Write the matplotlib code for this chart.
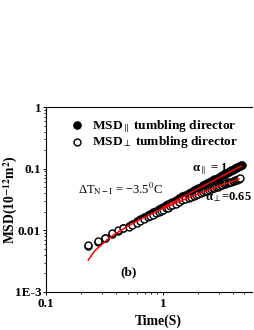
import matplotlib
matplotlib.use("Agg")
import matplotlib.pyplot as plt
from matplotlib.ticker import FixedLocator, FixedFormatter, LogLocator, NullFormatter

plt.rcParams['font.family'] = ['Liberation Serif', 'DejaVu Serif']
plt.rcParams['mathtext.fontset'] = 'stix'

# ---- data ----
time_para = [0.23, 0.28, 0.32, 0.37, 0.41, 0.46, 0.51, 0.55, 0.60, 0.64,
             0.69, 0.74, 0.78, 0.83, 0.87, 0.92, 0.97, 1.01, 1.06, 1.10,
             1.15, 1.20, 1.29, 1.38, 1.47, 1.56, 1.66, 1.75, 1.84, 1.93,
             2.02, 2.12, 2.21, 2.30, 2.39, 2.48, 2.58, 2.67, 2.76, 2.85,
             2.94, 3.04, 3.13, 3.22, 3.31, 3.40, 3.50, 3.59, 3.68, 3.77,
             3.86, 3.96, 4.05, 4.14, 4.23, 4.32, 4.42, 4.51, 4.60, 4.69, 4.78]
msd_para = [0.0055, 0.0065, 0.0075, 0.0087, 0.0098, 0.0108, 0.0118, 0.0128, 0.0141, 0.0152,
            0.0165, 0.0177, 0.0187, 0.0199, 0.0209, 0.0221, 0.0232, 0.0242, 0.0254, 0.0264,
            0.0276, 0.0288, 0.0310, 0.0331, 0.0354, 0.0375, 0.0400, 0.0421, 0.0444, 0.0465,
            0.0488, 0.0512, 0.0534, 0.0557, 0.0578, 0.0600, 0.0625, 0.0646, 0.0668, 0.0690,
            0.0712, 0.0737, 0.0759, 0.0781, 0.0803, 0.0825, 0.0850, 0.0872, 0.0894, 0.0916,
            0.0938, 0.0963, 0.0985, 0.1007, 0.1029, 0.1051, 0.1075, 0.1097, 0.1119, 0.1141, 0.1165]

time_perp = [0.23, 0.28, 0.32, 0.37, 0.41, 0.46, 0.51, 0.55, 0.60, 0.64,
             0.69, 0.74, 0.78, 0.83, 0.87, 0.92, 0.97, 1.01, 1.06, 1.10,
             1.15, 1.20, 1.29, 1.38, 1.47, 1.56, 1.66, 1.75, 1.84, 1.93,
             2.02, 2.12, 2.21, 2.30, 2.39, 2.48, 2.58, 2.67, 2.76, 2.85,
             2.94, 3.04, 3.13, 3.22, 3.31, 3.40, 3.50, 3.59, 3.68, 3.77,
             3.86, 3.96, 4.05, 4.14, 4.23, 4.32, 4.42, 4.51, 4.60]
msd_perp = [0.0058, 0.0066, 0.0076, 0.0089, 0.0100, 0.0108, 0.0115, 0.0121, 0.0132, 0.0142,
            0.0152, 0.0163, 0.0171, 0.0180, 0.0188, 0.0197, 0.0207, 0.0216, 0.0226, 0.0234,
            0.0244, 0.0254, 0.0272, 0.0289, 0.0305, 0.0320, 0.0337, 0.0352, 0.0365, 0.0378,
            0.0391, 0.0405, 0.0418, 0.0430, 0.0442, 0.0453, 0.0466, 0.0478, 0.0489, 0.0500,
            0.0511, 0.0523, 0.0534, 0.0544, 0.0555, 0.0565, 0.0577, 0.0587, 0.0597, 0.0607,
            0.0616, 0.0627, 0.0637, 0.0646, 0.0656, 0.0665, 0.0675, 0.0684, 0.0693]

fit_para_t = [1.0, 4.7]
fit_para_y = [0.0236, 0.111]

fit_perp_t = [0.23, 0.26, 0.30, 0.35, 0.40, 0.50, 0.60, 0.80, 1.0, 1.5, 2.0, 3.0, 4.0, 4.47]
fit_perp_y = [0.0033, 0.0046, 0.0059, 0.0076, 0.0090, 0.0117, 0.0141, 0.0186, 0.0226,
              0.0313, 0.0388, 0.0518, 0.0631, 0.0680]

xticks = [0.1, 1]
xticklabels = ["0.1", "1"]
yticks = [0.001, 0.01, 0.1, 1]
yticklabels = ["1E-3", "0.01", "0.1", "1"]

legend_labels = [r"MSD$_{\parallel}$ tumbling director",
                 r"MSD$_{\perp}$ tumbling director"]

# ---- figure ----
fig = plt.figure(figsize=(2.55, 3.30), dpi=100)
ax = fig.add_axes([46/255, 38/330, 206/255, 185/330])

ax.plot(time_para, msd_para, linestyle='none', marker='o', ms=5.2,
        mfc='black', mec='black', mew=0.9, zorder=2)
ax.plot(time_perp, msd_perp, linestyle='none', marker='o', ms=5.0,
        mfc='white', mec='black', mew=1.0, zorder=3)
ax.plot(fit_perp_t, fit_perp_y, color='red', lw=1.1, zorder=4)
ax.plot(fit_para_t, fit_para_y, color='red', lw=1.1, zorder=4)

ax.set_xscale('log')
ax.set_yscale('log')
ax.set_xlim(0.1, 5.8)
ax.set_ylim(0.001, 1)

ax.xaxis.set_major_locator(FixedLocator(xticks))
ax.xaxis.set_major_formatter(FixedFormatter(xticklabels))
ax.xaxis.set_minor_locator(LogLocator(base=10, subs=range(2, 10)))
ax.xaxis.set_minor_formatter(NullFormatter())
ax.yaxis.set_major_locator(FixedLocator(yticks))
ax.yaxis.set_major_formatter(FixedFormatter(yticklabels))
ax.yaxis.set_minor_locator(LogLocator(base=10, subs=range(2, 10)))
ax.yaxis.set_minor_formatter(NullFormatter())

for sp in ['left', 'bottom', 'top']:
    ax.spines[sp].set_linewidth(0.8)
ax.spines['right'].set_visible(False)

ax.tick_params(axis='both', which='major', direction='out', length=2.5, width=0.7,
               labelsize=9.5)
ax.tick_params(axis='both', which='minor', direction='out', length=1.5, width=0.6)
ax.tick_params(axis='x', which='major', pad=2)
ax.tick_params(axis='y', which='major', pad=1)
for lab in ax.get_xticklabels() + ax.get_yticklabels():
    lab.set_fontweight('bold')

ax.set_xlabel("Time(S)", fontsize=9.8, fontweight='bold')
ax.xaxis.set_label_coords((158-46)/206, -0.122)
ax.set_ylabel(r"MSD(10$^{\mathbf{-12}}$m$^{\mathbf{2}}$)", fontsize=9.8, fontweight='bold')
ax.yaxis.set_label_coords(-0.128, 0.5)

# legend (manual)
ax.plot([0.150], [0.903], transform=ax.transAxes, marker='o', ms=5.2,
        mfc='black', mec='black', clip_on=False)
ax.plot([0.150], [0.812], transform=ax.transAxes, marker='o', ms=5.0,
        mfc='white', mec='black', mew=1.0, clip_on=False)
ax.text(0.222, 0.878, legend_labels[0], transform=ax.transAxes, fontsize=9.6,
        fontweight='bold', va='baseline', ha='left')
ax.text(0.222, 0.795, legend_labels[1], transform=ax.transAxes, fontsize=9.6,
        fontweight='bold', va='baseline', ha='left')

ax.text(0.157, 0.534, r"ΔT$_{\mathrm{N-I}}$ = −3.5$^{0}$C", transform=ax.transAxes,
        fontsize=9.0, va='baseline', ha='left')
ax.text(0.707, 0.650, r"α$_{\parallel}$ = 1", transform=ax.transAxes,
        fontsize=9.0, fontweight='bold', va='baseline', ha='left')
ax.text(0.772, 0.497, r"α$_{\perp}$=0.65", transform=ax.transAxes,
        fontsize=9.0, fontweight='bold', va='baseline', ha='left')
ax.text(0.359, 0.092, "(b)", transform=ax.transAxes,
        fontsize=9.6, fontweight='bold', va='baseline', ha='left')

fig.savefig("out.png", dpi=100)
